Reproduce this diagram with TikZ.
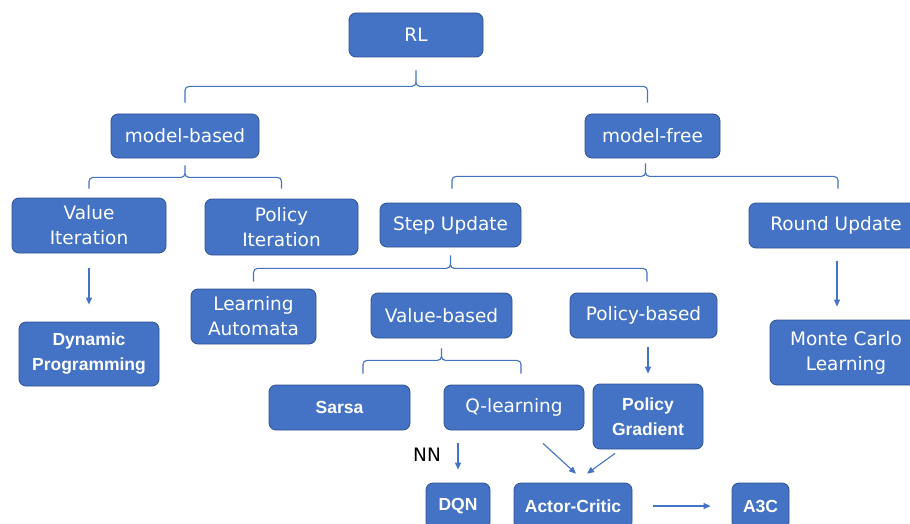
\documentclass[tikz,border=0pt]{standalone}
\usepackage{fontspec}
\setmainfont{DejaVu Sans}
\newfontfamily\heavyfont{Liberation Sans}
\usepackage{tikz}
\usetikzlibrary{arrows.meta,calc}

\definecolor{boxfill}{HTML}{4472C4}
\definecolor{boxedge}{HTML}{2F528F}

\begin{document}
\begin{tikzpicture}[x=1pt, y=-1pt,
    box/.style={draw=boxedge, line width=0.8pt, fill=boxfill, rounded corners=7pt,
        text=white, align=center, inner sep=0pt, font=\fontsize{18.5}{25}\selectfont},
    boldbox/.style={box, font=\heavyfont\bfseries\fontsize{17.5}{25}\selectfont},
    link/.style={draw=boxfill, line width=1.1pt, -{Triangle[length=7pt, width=6pt]}},
    brace/.style={draw=boxfill, line width=1.1pt, rounded corners=4pt}]
    \clip (0,0) rectangle (910,524);

    % top levels
    \node[box, minimum width=134, minimum height=44] (rl) at (416,35) {RL};
    \node[box, minimum width=148, minimum height=44] (mb) at (185,136) {model-based};
    \node[box, minimum width=135, minimum height=44] (mf) at (652.5,136) {model-free};

    \node[box, minimum width=154, minimum height=55] (vi) at (89,225.5) {Value\\Iteration};
    \node[box, minimum width=153, minimum height=56] (pi) at (281.5,227) {Policy\\Iteration};
    \node[box, minimum width=141, minimum height=44] (su) at (450.5,225) {Step Update};
    \node[box, minimum width=174, minimum height=45] (ru) at (836,225.5) {Round Update};

    \node[boldbox, minimum width=140, minimum height=64] (dp) at (89,354) {Dynamic\\Programming};
    \node[box, minimum width=125, minimum height=55] (la) at (253.5,316.5) {Learning\\Automata};
    \node[box, minimum width=141, minimum height=45] (vb) at (441.5,315.5) {Value-based};
    \node[box, minimum width=147, minimum height=45] (pb) at (643.5,315.5) {Policy-based};
    \node[box, minimum width=152, minimum height=65] (mc) at (846,352.5) {Monte Carlo\\Learning};

    \node[boldbox, minimum width=141, minimum height=45] (sarsa) at (339.5,407.5) {Sarsa};
    \node[box, minimum width=140, minimum height=45] (ql) at (514,407.5) {Q-learning};
    \node[boldbox, minimum width=110, minimum height=65] (pg) at (648,416.5) {Policy\\Gradient};

    \node[boldbox, minimum width=64, minimum height=46] (dqn) at (458,506) {DQN};
    \node[boldbox, minimum width=118, minimum height=46] (ac) at (573,506) {Actor-Critic};
    \node[boldbox, minimum width=57, minimum height=46] (a3c) at (760.5,506) {A3C};
    \node[font=\fontsize{18.5}{25}\selectfont] (nn) at (427,455) {NN};

    % braces
    \draw[brace] ([yshift=11pt]mb.north) |- ([yshift=-29pt]rl.south) -- ([yshift=-13pt]rl.south)
                 ([xshift=-5pt, yshift=11pt]mf.north) |- ([yshift=-29pt]rl.south) -- ([yshift=-13pt]rl.south);
    \draw[brace] ([yshift=9pt]vi.north) |- ([yshift=-19pt]mb.south) -- ([yshift=-7pt]mb.south)
                 ([yshift=10pt]pi.north) |- ([yshift=-19pt]mb.south) -- ([yshift=-7pt]mb.south);
    \draw[brace] ([xshift=1.5pt, yshift=14pt]su.north) |- ([xshift=-7pt, yshift=-18pt]mf.south) -- ([xshift=-7pt, yshift=-5pt]mf.south)
                 ([xshift=2pt, yshift=14pt]ru.north) |- ([xshift=-7pt, yshift=-18pt]mf.south) -- ([xshift=-7pt, yshift=-5pt]mf.south);
    \draw[brace] ([yshift=7pt]la.north) |- ([yshift=-21pt]su.south) -- ([yshift=-8pt]su.south)
                 ([xshift=3.5pt, yshift=11pt]pb.north) |- ([yshift=-21pt]su.south) -- ([yshift=-8pt]su.south);
    \draw[brace] ([xshift=23.5pt, yshift=11pt]sarsa.north) |- ([yshift=-22pt]vb.south) -- ([yshift=-10pt]vb.south)
                 ([xshift=7pt, yshift=11pt]ql.north) |- ([yshift=-22pt]vb.south) -- ([yshift=-10pt]vb.south);

    % arrows
    \draw[link] ([yshift=-15pt]vi.south) -- ([yshift=17pt]dp.north);
    \draw[link] ($(ru.south)+(1,13)$) -- ($(ru.south |- mc.north)+(1,-13)$);
    \draw[link] ($(pg.north |- pb.south)+(0,9)$) -- ($(pg.north)+(0,-10)$);
    \draw[link] ($(dqn.north |- ql.south)+(0,13)$) -- ($(dqn.north)+(0,-13)$);
    \draw[link] ($(ql.south)+(29,13)$) -- ($(ac.north)+(3,-9)$);
    \draw[link] ($(pg.south)+(-33,4)$) -- ($(ac.north)+(14,-9)$);
    \draw[link] ($(ac.east)+(21,0)$) -- ($(a3c.west)+(-21,0)$);
\end{tikzpicture}
\end{document}
